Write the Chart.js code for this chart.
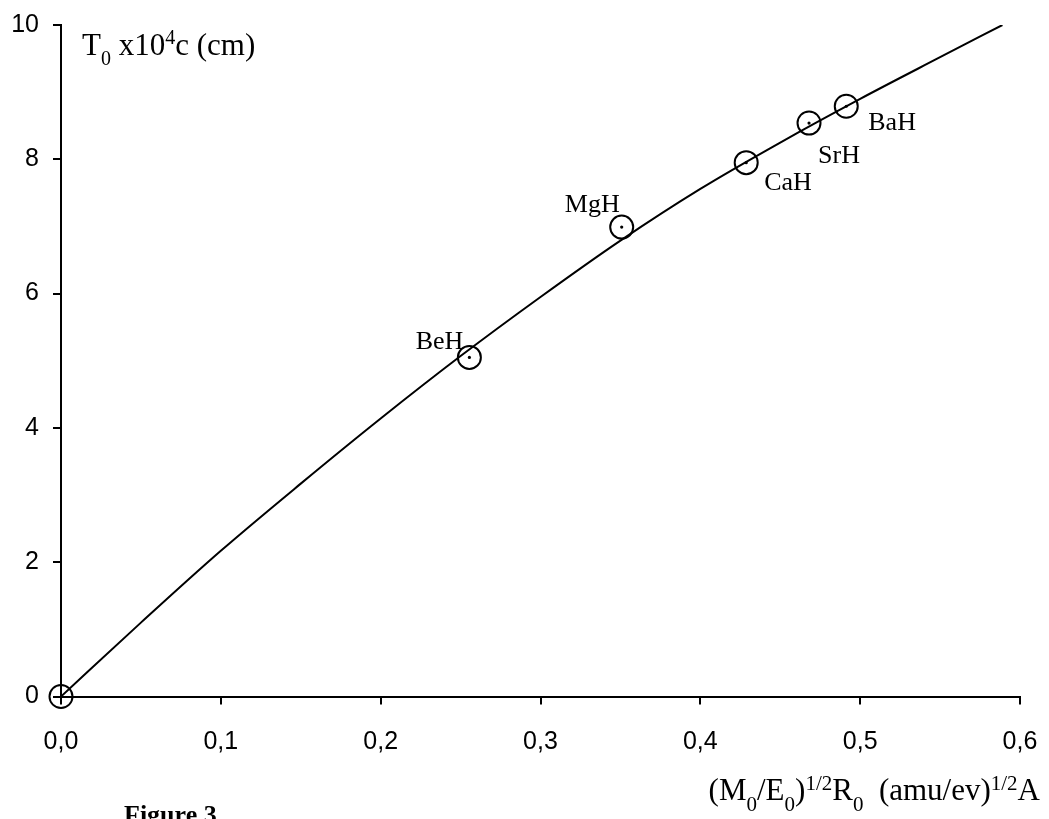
<!DOCTYPE html>
<html>
<head>
<meta charset="utf-8">
<script src="https://cdn.jsdelivr.net/npm/chart.js@4.4.1/dist/chart.umd.min.js"></script>
<style>
  html, body { margin: 0; padding: 0; background: #fff; }
  #wrap { width: 1049px; height: 819px; position: relative; }
</style>
</head>
<body>
<div id="wrap"><canvas id="c" width="1049" height="819"></canvas></div>
<script>
// ---- data ----
const curveX = [0, 0.05, 0.1, 0.15, 0.2, 0.25, 0.3, 0.35, 0.4, 0.45, 0.5, 0.55, 0.589];
const curveY = [0, 1.1, 2.17, 3.17, 4.14, 5.07, 5.95, 6.79, 7.56, 8.25, 8.9, 9.52, 10.0];

const pointNames = ['', 'BeH', 'MgH', 'CaH', 'SrH', 'BaH'];
const pointX = [0, 0.2555, 0.3508, 0.4287, 0.468, 0.4913];
const pointY = [0, 5.05, 6.99, 7.95, 8.54, 8.79];

const xTicks = [0, 0.1, 0.2, 0.3, 0.4, 0.5, 0.6];
const yTicks = [0, 2, 4, 6, 8, 10];

const yTitle = [{t:'T'}, {t:'0', sub:true}, {t:' x10'}, {t:'4', sup:true}, {t:'c (cm)'}];
const xTitle = [{t:'(M'}, {t:'0', sub:true}, {t:'/E'}, {t:'0', sub:true}, {t:')'}, {t:'1/2', sup:true},
                {t:'R'}, {t:'0', sub:true}, {t:'  (amu/ev)'}, {t:'1/2', sup:true}, {t:'A'}];
const figureCaption = 'Figure 3';

// ---- helpers ----
const SERIF = '"Liberation Serif", "Times New Roman", serif';
const SANS = '"Liberation Sans", Arial, sans-serif';

function richWidth(ctx, segs, size, small) {
  let w = 0;
  segs.forEach(s => {
    ctx.font = ((s.sub || s.sup) ? small : size) + 'px ' + SERIF;
    w += ctx.measureText(s.t).width;
  });
  return w;
}
function drawRich(ctx, segs, x, y, size, small, subDy, supDy) {
  ctx.textAlign = 'left';
  ctx.textBaseline = 'alphabetic';
  segs.forEach(s => {
    ctx.font = ((s.sub || s.sup) ? small : size) + 'px ' + SERIF;
    const dy = s.sub ? subDy : (s.sup ? supDy : 0);
    ctx.fillText(s.t, x, y + dy);
    x += ctx.measureText(s.t).width;
  });
}

// label offsets relative to the point (pixels), with alignment
const labelPlace = {
  'BeH': {dx: -6, dy: -8, align: 'right'},
  'MgH': {dx: -2, dy: -15, align: 'right'},
  'CaH': {dx: 18, dy: 27, align: 'left'},
  'SrH': {dx: 9, dy: 40, align: 'left'},
  'BaH': {dx: 22, dy: 24, align: 'left'}
};

const textPlugin = {
  id: 'texts',
  afterDraw(chart) {
    const ctx = chart.ctx;
    const xs = chart.scales.x, ys = chart.scales.y;
    ctx.save();
    ctx.fillStyle = '#000';
    // point labels
    ctx.font = '26px ' + SERIF;
    ctx.textBaseline = 'alphabetic';
    pointNames.forEach((n, i) => {
      if (!n) return;
      const p = labelPlace[n];
      ctx.textAlign = p.align;
      ctx.fillText(n, xs.getPixelForValue(pointX[i]) + p.dx, ys.getPixelForValue(pointY[i]) + p.dy);
    });
    // y title
    drawRich(ctx, yTitle, 82, 55, 31, 20, 10, -11.5);
    // x title (right aligned)
    const w = richWidth(ctx, xTitle, 31, 21);
    drawRich(ctx, xTitle, 1040 - w, 800, 31, 21, 11, -10.5);
    // caption
    ctx.font = 'bold 26px ' + SERIF;
    ctx.textAlign = 'left';
    ctx.fillText(figureCaption, 124, 823);
    ctx.restore();
  }
};

const ctx = document.getElementById('c').getContext('2d');
new Chart(ctx, {
  type: 'scatter',
  data: {
    datasets: [
      {
        type: 'line',
        data: curveX.map((x, i) => ({x: x, y: curveY[i]})),
        borderColor: '#000',
        borderWidth: 2,
        pointRadius: 0,
        fill: false,
        cubicInterpolationMode: 'monotone',
        order: 3
      },
      {
        data: pointX.map((x, i) => ({x: x, y: pointY[i]})),
        pointRadius: 11.5,
        pointBorderWidth: 2,
        pointBorderColor: '#000',
        pointBackgroundColor: 'rgba(0,0,0,0)',
        clip: false,
        order: 2
      },
      {
        data: pointX.slice(1).map((x, i) => ({x: x, y: pointY[i + 1]})),
        pointRadius: 1.6,
        pointBorderWidth: 0,
        pointBackgroundColor: '#000',
        order: 1
      }
    ]
  },
  options: {
    responsive: false,
    animation: false,
    events: [],
    layout: { padding: { left: 0, right: 29, top: 25, bottom: 0 } },
    plugins: { legend: { display: false }, tooltip: { enabled: false } },
    scales: {
      x: {
        type: 'linear',
        min: 0, max: 0.6,
        afterBuildTicks(scale) { scale.ticks = xTicks.map(v => ({value: v})); },
        afterFit(scale) { scale.height = 122.5; scale.paddingLeft = 0; scale.paddingRight = 0; },
        ticks: {
          color: '#000',
          font: { family: SANS, size: 25 },
          padding: 23,
          maxRotation: 0,
          callback: v => Number(v).toFixed(1).replace('.', ',')
        },
        grid: { drawOnChartArea: false, drawTicks: true, tickLength: 8, color: '#000', lineWidth: 2 },
        border: { display: true, color: '#000', width: 2 }
      },
      y: {
        type: 'linear',
        min: 0, max: 10,
        afterBuildTicks(scale) { scale.ticks = yTicks.map(v => ({value: v})); },
        afterFit(scale) { scale.width = 61; scale.paddingTop = 0; scale.paddingBottom = 0; },
        ticks: {
          color: '#000',
          font: { family: SANS, size: 25 },
          padding: 14,
          callback: v => String(v)
        },
        grid: { drawOnChartArea: false, drawTicks: true, tickLength: 8, color: '#000', lineWidth: 2 },
        border: { display: true, color: '#000', width: 2 }
      }
    }
  },
  plugins: [textPlugin]
});
</script>
</body>
</html>
